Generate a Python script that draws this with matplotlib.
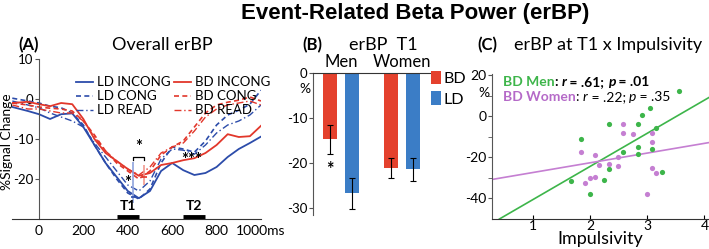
import numpy as np
import matplotlib
matplotlib.use("Agg")
import matplotlib.pyplot as plt

plt.rcParams['font.family'] = ['Lato', 'DejaVu Sans']
plt.rcParams['axes.unicode_minus'] = False

# ---- panel A: erBP time courses (% signal change) ----
ms = [-120, -50, 0, 50, 100, 150, 200, 250, 300, 350, 400, 450, 500,
      550, 600, 650, 700, 750, 800, 850, 900, 950, 1000]
ld_incong = [-2.0, -3.0, -3.8, -5.0, -3.8, -3.6, -7.0, -11.5, -16.0, -19.5, -23.0, -24.8, -23.0,
             -18.0, -16.0, -17.8, -19.0, -18.5, -17.0, -14.5, -12.5, -11.0, -9.4]
ld_cong = [0.2, -0.5, -1.0, -1.8, -2.2, -3.5, -6.5, -11.5, -16.0, -20.0, -23.5, -25.0, -22.5,
           -16.0, -12.0, -12.5, -13.3, -10.5, -6.5, -4.0, -2.8, -1.3, 2.2]
ld_read = [-0.5, -1.5, -2.2, -3.5, -4.5, -5.5, -7.0, -11.0, -14.5, -18.0, -21.5, -23.0, -20.5,
           -15.0, -12.5, -12.8, -13.8, -11.5, -8.5, -6.5, -5.5, -4.0, -1.5]
bd_incong = [-1.0, -0.7, -1.3, -1.8, -1.0, -1.3, -5.0, -10.0, -13.5, -15.5, -17.5, -19.2, -18.5,
             -16.5, -16.0, -15.3, -14.8, -13.5, -11.5, -8.8, -9.5, -9.3, -6.7]
bd_cong = [-1.0, -1.5, -2.0, -2.3, -2.5, -3.0, -5.5, -9.0, -13.0, -16.0, -18.0, -20.0, -18.0,
           -14.0, -12.0, -10.5, -7.0, -3.5, -1.5, -0.8, -0.3, 0.5, -0.5]
bd_read = [-1.5, -2.5, -2.5, -3.0, -3.5, -3.5, -5.5, -9.5, -13.0, -15.5, -17.5, -19.0, -17.0,
           -13.5, -12.0, -11.0, -8.0, -4.5, -2.5, -1.5, -1.0, -0.5, -1.5]
windows = {'T1': (350, 450), 'T2': (650, 750)}
t1_peak_ms = [425, 475]

# ---- panel B: erBP at T1 ----
groups = ['Men', 'Women']
bd_t1 = [-14.7, -21.1]
bd_t1_err = [3.2, 2.3]
ld_t1 = [-26.7, -21.4]
ld_t1_err = [3.5, 2.6]

# ---- panel C: erBP at T1 x impulsivity ----
men_x = [3.55, 3.05, 2.91, 2.33, 2.83, 3.16, 1.83, 2.57, 2.83, 3.08, 2.83, 2.33, 3.25, 2.25, 1.67, 1.99]
men_y = [12.0, 4.0, 0.5, -3.6, -3.9, -5.7, -10.9, -17.4, -15.0, -16.1, -18.2, -25.9, -27.2, -31.2, -31.7, -37.7]
women_x = [2.57, 2.57, 2.75, 3.08, 3.08, 1.83, 2.08, 2.49, 2.33, 2.15, 2.49, 3.08, 3.16, 2.08, 1.99, 1.91, 2.99]
women_y = [-3.6, -8.0, -8.8, -8.3, -12.8, -17.4, -19.0, -19.8, -23.1, -23.9, -24.2, -25.0, -27.8, -29.6, -30.1, -32.7, -38.0]
men_fit = (16.1, -56.6)      # slope, intercept
women_fit = (4.72, -32.1)

BLUE = '#2c4caa'
RED = '#e2372b'
BAR_RED = '#e4412d'
BAR_BLUE = '#3b7dc6'
GREEN = '#3db54a'
VIOLET = '#c57fd2'
VIOLET_TXT = '#b56ac8'

W, H = 709, 249
fig = plt.figure(figsize=(W / 100, H / 100), dpi=100)


def box(x0, x1, y0, y1):
    # pixel box -> figure fraction
    return [x0 / W, 1 - y1 / H, (x1 - x0) / W, (y1 - y0) / H]


fig.text(415 / W, 1 - 14 / H, 'Event-Related Beta Power (erBP)', ha='center', va='center',
         fontsize=16, fontweight='bold', family='Liberation Sans')

# ================= Panel A =================
ax = fig.add_axes(box(12.3, 261, 59, 219))
ax.plot(ms, ld_incong, color=BLUE, lw=1.3, ls='-', label='LD INCONG')
ax.plot(ms, ld_cong, color=BLUE, lw=1.2, ls=(0, (3, 2)), label='LD CONG')
ax.plot(ms, ld_read, color=BLUE, lw=1.0, ls=(0, (5, 2, 1, 2)), label='LD READ')
ax.plot(ms, bd_incong, color=RED, lw=1.3, ls='-', label='BD INCONG')
ax.plot(ms, bd_cong, color=RED, lw=1.2, ls=(0, (3, 2)), label='BD CONG')
ax.plot(ms, bd_read, color=RED, lw=1.0, ls=(0, (5, 2, 1, 2)), label='BD READ')
ax.set_xlim(-120, 1000)
ax.set_ylim(-30, 10)
for s in ['top', 'right']:
    ax.spines[s].set_visible(False)
ax.spines['left'].set_position(('data', 0))
ax.spines['left'].set_color('#555555')
ax.spines['bottom'].set_color('#333333')
ax.set_yticks([10, 0, -10, -20])
ax.set_xticks([0, 200, 400, 600, 800, 1000])
ax.set_xticklabels(['0', '200', '400', '600', '800', '1000ms'])
ax.tick_params(axis='x', length=0, labelsize=10, pad=4)
ax.tick_params(axis='y', length=3, labelsize=9.5, pad=1, color='#555555')
ax.legend(ncol=2, loc='upper left', bbox_to_anchor=(0.22, 0.95), frameon=False, fontsize=9.5,
          handlelength=1.3, handletextpad=0.3, columnspacing=0.2, labelspacing=0.15,
          borderaxespad=0.3)

# peak markers at T1
ax.vlines(t1_peak_ms[0], -26.0, -15.8, color='#8fa3dd', lw=1.2)
ax.hlines(-24.5, t1_peak_ms[0] - 12, t1_peak_ms[0] + 12, color=BLUE, lw=1.2)
ax.vlines(t1_peak_ms[1], -21.5, -16.5, color='#f19a90', lw=1.2)
ax.hlines(-19.5, t1_peak_ms[1] - 12, t1_peak_ms[1] + 12, color=RED, lw=1.2)
ax.plot([t1_peak_ms[0], t1_peak_ms[0], t1_peak_ms[1], t1_peak_ms[1]],
        [-15.3, -14.6, -14.6, -15.3], color='black', lw=0.9)
ax.text(np.mean(t1_peak_ms), -13.9, '*', ha='center', va='bottom', fontsize=12, fontweight='bold')
ax.text(398, -21.0, '*', ha='center', va='center', fontsize=12, fontweight='bold')
ax.text(690, -15.2, '***', ha='center', va='center', fontsize=12, fontweight='bold')
for name, (a, b) in windows.items():
    ax.plot([a, b], [-29.5, -29.5], color='black', lw=3.5, solid_capstyle='butt', clip_on=False)
    ax.text((a + b) / 2, -28.2, name, ha='center', va='bottom', fontsize=10, fontweight='bold')
fig.text(1 / W, 1 - 142 / H, '%Signal Change', rotation=90, ha='left', va='center', fontsize=10)
fig.text(18 / W, 1 - 45 / H, '(A)', ha='left', va='center', fontsize=12, fontweight='bold')
fig.text(162 / W, 1 - 45 / H, 'Overall erBP', ha='center', va='center', fontsize=13)

# ================= Panel B =================
bx = fig.add_axes(box(313, 433, 73, 215))
xpos = np.array([0.0, 2.77])
bw = 0.64
bx.bar(xpos, bd_t1, width=bw, color=BAR_RED, yerr=bd_t1_err, capsize=2,
       error_kw=dict(lw=0.8, capthick=0.8), label='BD')
bx.bar(xpos + 1, ld_t1, width=bw, color=BAR_BLUE, yerr=ld_t1_err, capsize=2,
       error_kw=dict(lw=0.8, capthick=0.8), label='LD')
bx.set_xlim(-0.77, 4.68)
bx.set_ylim(-31.5, 0)
for s in ['bottom', 'right']:
    bx.spines[s].set_visible(False)
bx.spines['top'].set_color('#333333')
bx.spines['left'].set_color('#555555')
bx.set_xticks([])
bx.set_yticks([0, -10, -20, -30])
bx.tick_params(axis='y', length=3, labelsize=9.5, pad=1, color='#555555')
bx.text(0, -21.5, '*', ha='center', va='center', fontsize=13, fontweight='bold')
for xg, g in zip(xpos + 0.5, groups):
    bx.text(xg, 0.6, g, ha='center', va='bottom', fontsize=12)
bx.legend(loc='upper left', bbox_to_anchor=(0.96, 1.04), frameon=False, fontsize=11.5,
          handlelength=0.6, handleheight=0.95, handletextpad=0.15, labelspacing=0.35,
          borderaxespad=0.0, borderpad=0.2)
fig.text(305 / W, 1 - 89 / H, '%', ha='center', va='center', fontsize=10)
fig.text(302 / W, 1 - 45 / H, '(B)', ha='left', va='center', fontsize=12, fontweight='bold')
fig.text(383 / W, 1 - 45 / H, 'erBP  T1', ha='center', va='center', fontsize=13)

# ================= Panel C =================
cx = fig.add_axes(box(492, 709, 74, 219))
cx.scatter(men_x, men_y, s=14, color=GREEN, zorder=3, linewidths=0)
cx.scatter(women_x, women_y, s=14, color=VIOLET, zorder=3, linewidths=0)
cx.axline((0, men_fit[1]), slope=men_fit[0], color=GREEN, lw=1.2)
cx.axline((0, women_fit[1]), slope=women_fit[0], color=VIOLET, lw=1.2)
cx.set_xlim(0.28, 4.08)
cx.set_ylim(-50, 20.5)
for s in ['top', 'right']:
    cx.spines[s].set_visible(False)
cx.spines['left'].set_color('#555555')
cx.spines['bottom'].set_color('#333333')
cx.set_xticks([1, 2, 3, 4])
cx.set_yticks([20, 0, -20, -40])
cx.set_yticks([10, -10, -30], minor=True)
cx.tick_params(axis='x', direction='in', length=3, labelsize=10, pad=1)
cx.tick_params(axis='y', which='both', length=3, labelsize=10, pad=1, color='#555555')
cx.set_xlabel('Impulsivity', fontsize=13, labelpad=-1)
fig.text(484 / W, 1 - 93 / H, '%', ha='center', va='center', fontsize=10)
fig.text(477 / W, 1 - 45 / H, '(C)', ha='left', va='center', fontsize=12, fontweight='bold')
fig.text(608 / W, 1 - 45 / H, 'erBP at T1 x Impulsivity', ha='center', va='center', fontsize=13)


def chain(x, y, parts, size=10):
    # write differently styled pieces one after another on one line
    prev = None
    for txt, col, wt, st in parts:
        if prev is None:
            prev = fig.text(x / W, 1 - y / H, txt, color=col, fontweight=wt, style=st,
                            fontsize=size, va='baseline', ha='left')
        else:
            prev = cx.annotate(txt, xy=(1, 0), xycoords=prev, va='bottom', ha='left',
                               color=col, fontweight=wt, style=st, fontsize=size,
                               annotation_clip=False)
    return prev


chain(503, 86, [('BD Men', GREEN, 'bold', 'normal'), (': ', 'black', 'bold', 'normal'),
                ('r', 'black', 'bold', 'italic'), (' = .61; ', 'black', 'bold', 'normal'),
                ('p', 'black', 'bold', 'italic'), (' = .01', 'black', 'bold', 'normal')])
chain(503, 101, [('BD Women', VIOLET_TXT, 'bold', 'normal'), (': ', 'black', 'normal', 'normal'),
                 ('r', 'black', 'normal', 'italic'), (' = .22; ', 'black', 'normal', 'normal'),
                 ('p', 'black', 'normal', 'italic'), (' = .35', 'black', 'normal', 'normal')])

fig.savefig('out.png', dpi=100)
